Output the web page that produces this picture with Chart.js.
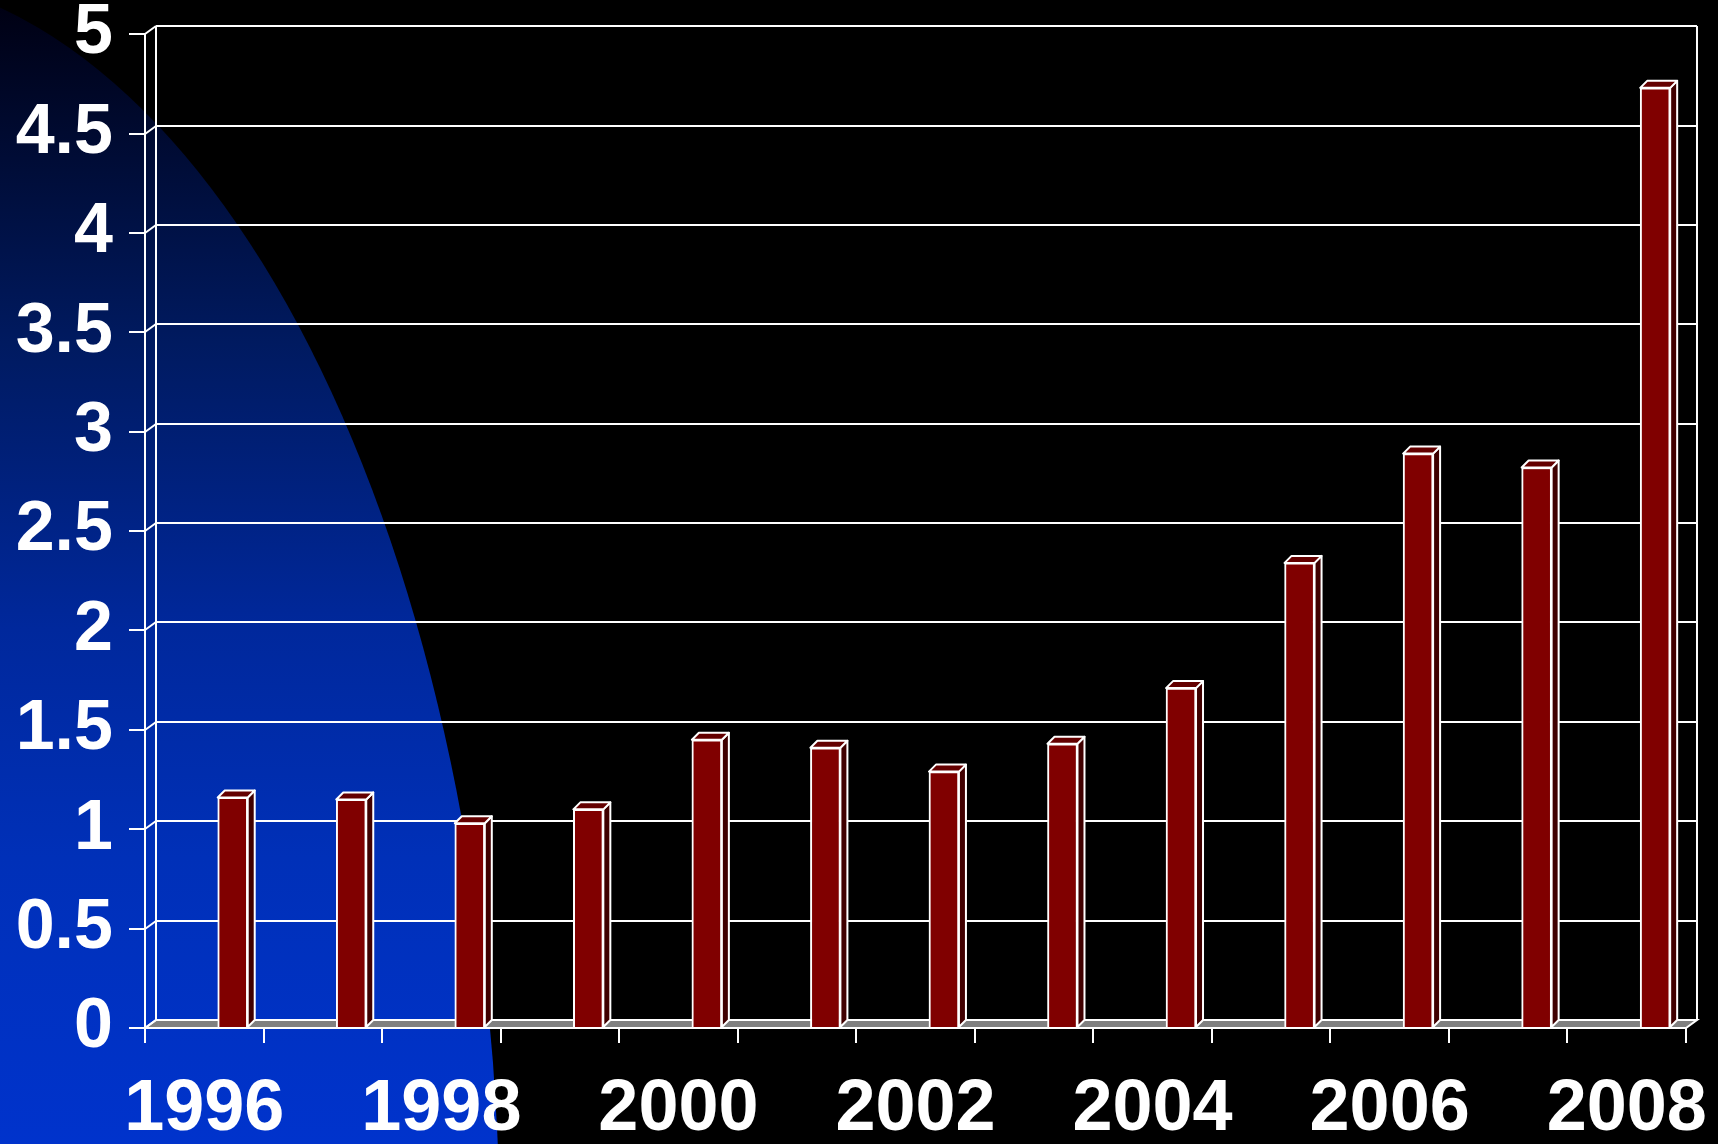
<!DOCTYPE html>
<html>
<head>
<meta charset="utf-8">
<script src="https://cdn.jsdelivr.net/npm/chart.js@4.4.1/dist/chart.umd.min.js"></script>
<style>
html, body { margin: 0; padding: 0; background: #000; }
canvas { display: block; }
</style>
</head>
<body>
<canvas id="myChart" width="1718" height="1144"></canvas>
<script>
// data
const years = ['1996', '1997', '1998', '1999', '2000', '2001', '2002',
               '2003', '2004', '2005', '2006', '2007', '2008'];
const values = [1.16, 1.15, 1.03, 1.10, 1.45, 1.41, 1.29, 1.43, 1.71, 2.34, 2.89, 2.82, 4.73];
const yMin = 0, yMax = 5, yStep = 0.5;

// 3d look
const wallDx = 11, wallDy = 8;   // depth of back wall
const barDx = 7, barDy = 7;      // depth of each column
const barShift = 0.24;           // columns sit a bit to the right of the category centre

const fontFamily = '"Liberation Sans", Arial, sans-serif';

function line(ctx, x1, y1, x2, y2) {
    ctx.beginPath();
    ctx.moveTo(x1, y1);
    ctx.lineTo(x2, y2);
    ctx.stroke();
}

const backdrop = {
    id: 'backdrop',
    beforeDraw(chart) {
        const {ctx, width, height} = chart;
        ctx.save();
        ctx.fillStyle = '#000';
        ctx.fillRect(0, 0, width, height);
        const g = ctx.createLinearGradient(0, 0, 0, height);
        g.addColorStop(0, '#000012');
        g.addColorStop(0.3, '#001a60');
        g.addColorStop(0.55, '#00289c');
        g.addColorStop(0.75, '#0030b8');
        g.addColorStop(1, '#0033cc');
        ctx.beginPath();
        ctx.ellipse(-150, 1250, 650, 1277, 0, 0, Math.PI * 2);
        ctx.fillStyle = g;
        ctx.fill();
        ctx.restore();
    }
};

const walls = {
    id: 'walls',
    beforeDatasetsDraw(chart) {
        const {ctx, chartArea: a} = chart;
        const y = chart.scales.y;
        ctx.save();
        ctx.strokeStyle = '#fff';
        ctx.lineWidth = 2;
        // floor
        ctx.beginPath();
        ctx.moveTo(a.left, a.bottom);
        ctx.lineTo(a.left + wallDx, a.bottom - wallDy);
        ctx.lineTo(a.right + wallDx, a.bottom - wallDy);
        ctx.lineTo(a.right, a.bottom);
        ctx.closePath();
        ctx.fillStyle = '#808080';
        ctx.fill();
        ctx.stroke();
        // grid on the back wall
        y.ticks.forEach(t => {
            const py = Math.round(y.getPixelForValue(t.value));
            line(ctx, a.left, py, a.left + wallDx, py - wallDy);
            line(ctx, a.left + wallDx, py - wallDy, a.right + wallDx, py - wallDy);
        });
        const top = Math.round(y.getPixelForValue(yMax)) - wallDy;
        line(ctx, a.left + wallDx, top, a.left + wallDx, a.bottom - wallDy);
        line(ctx, a.right + wallDx, top, a.right + wallDx, a.bottom - wallDy);
        ctx.restore();
    }
};

const columns3d = {
    id: 'columns3d',
    afterDatasetsDraw(chart) {
        const ctx = chart.ctx;
        const meta = chart.getDatasetMeta(0);
        ctx.save();
        ctx.strokeStyle = '#fff';
        ctx.lineWidth = 2;
        ctx.lineJoin = 'round';
        meta.data.forEach(bar => {
            const {x, y, base, width} = bar.getProps(['x', 'y', 'base', 'width'], true);
            const l = x - width / 2, r = x + width / 2;
            // side
            ctx.beginPath();
            ctx.moveTo(r, y);
            ctx.lineTo(r + barDx, y - barDy);
            ctx.lineTo(r + barDx, base - barDy);
            ctx.lineTo(r, base);
            ctx.closePath();
            ctx.fillStyle = '#400000';
            ctx.fill();
            ctx.stroke();
            // top
            ctx.beginPath();
            ctx.moveTo(l, y);
            ctx.lineTo(l + barDx, y - barDy);
            ctx.lineTo(r + barDx, y - barDy);
            ctx.lineTo(r, y);
            ctx.closePath();
            ctx.fillStyle = '#640000';
            ctx.fill();
            ctx.stroke();
        });
        ctx.restore();
    }
};

const ctx = document.getElementById('myChart');
const myChart = new Chart(ctx, {
    type: 'bar',
    data: {
        labels: years,
        datasets: [{
            data: values,
            xAxisID: 'xb',
            backgroundColor: '#800000',
            borderColor: '#fff',
            borderWidth: 2,
            barThickness: 30
        }]
    },
    options: {
        responsive: false,
        animation: false,
        devicePixelRatio: 1,
        layout: { padding: { top: 0, right: 31, bottom: 0, left: 0 } },
        plugins: {
            legend: { display: false },
            tooltip: { enabled: false }
        },
        scales: {
            x: {
                type: 'category',
                offset: true,
                grid: {
                    offset: true,
                    drawOnChartArea: false,
                    color: '#fff',
                    lineWidth: 2,
                    tickLength: 15
                },
                border: { color: '#fff', width: 2 },
                ticks: {
                    color: '#fff',
                    autoSkip: false,
                    maxRotation: 0,
                    padding: 10,
                    font: { family: fontFamily, size: 72, weight: 'bold', lineHeight: 1.58 },
                    callback: function(v, i) {
                        return i % 2 === 0 ? this.getLabelForValue(v) : '';
                    }
                },
                afterFit(s) { s.height = 116; }
            },
            xb: {
                type: 'linear',
                display: false,
                offset: false,
                grid: { offset: false },
                min: Number(years[0]) - 0.5 - barShift,
                max: Number(years[years.length - 1]) + 0.5 - barShift
            },
            y: {
                min: yMin,
                max: yMax,
                grid: {
                    drawOnChartArea: false,
                    color: '#fff',
                    lineWidth: 2,
                    tickLength: 16
                },
                border: { color: '#fff', width: 2 },
                ticks: {
                    stepSize: yStep,
                    color: '#fff',
                    padding: 16,
                    font: { family: fontFamily, size: 70, weight: 'bold', lineHeight: 0.52 },
                    callback: v => String(v)
                },
                afterFit(s) { s.width = 145; }
            }
        }
    },
    plugins: [backdrop, walls, columns3d]
});
</script>
</body>
</html>
